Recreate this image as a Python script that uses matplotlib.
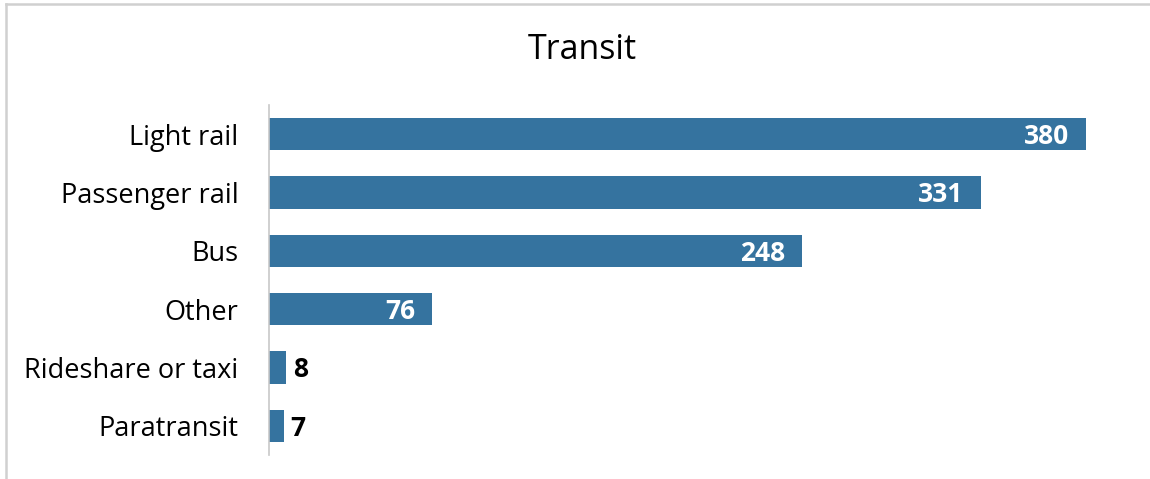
import matplotlib.pyplot as plt
from matplotlib.lines import Line2D

plt.rcParams['font.family'] = ['Open Sans', 'DejaVu Sans']

modes = ["Light rail", "Passenger rail", "Bus", "Other", "Rideshare or taxi", "Paratransit"]
counts = [380, 331, 248, 76, 8, 7]

bar_color = "#35739f"

fig = plt.figure(figsize=(11.5, 4.79), dpi=100)
ax = fig.add_axes([269 / 1150, 1 - 455 / 479, 860 / 1150, 350 / 479])

y = list(range(len(modes)))
bars = ax.barh(y, counts, height=0.55, color=bar_color)
ax.set_xlim(0, 400)
ax.set_ylim(len(modes) - 0.5, -0.5)
ax.set_yticks(y)
ax.set_yticklabels(modes, fontsize=19.5)
ax.tick_params(axis='y', length=0, pad=22)
ax.set_xticks([])
for s in ["top", "right", "bottom"]:
    ax.spines[s].set_visible(False)
ax.spines["left"].set_color("#c8c8c8")
ax.spines["left"].set_linewidth(1.2)

for yi, v in zip(y, counts):
    if v > 50:
        ax.text(v - 8, yi + 0.04, str(v), ha="right", va="center", color="white",
                fontsize=19, fontweight="bold")
    else:
        ax.text(v + 3, yi + 0.04, str(v), ha="left", va="center", color="black",
                fontsize=19, fontweight="bold")

fig.text(582 / 1150, 1 - 50 / 479, "Transit", ha="center", va="center", fontsize=24.5)

# frame: only top and left edges show in the crop
bx, by = 5.5 / 1150, 1 - 3.5 / 479
fig.add_artist(Line2D([bx, 1], [by, by], transform=fig.transFigure, color="#d0d0d0", linewidth=1.8))
fig.add_artist(Line2D([bx, bx], [0, by], transform=fig.transFigure, color="#d0d0d0", linewidth=1.8))

fig.savefig("out.png", dpi=100)
